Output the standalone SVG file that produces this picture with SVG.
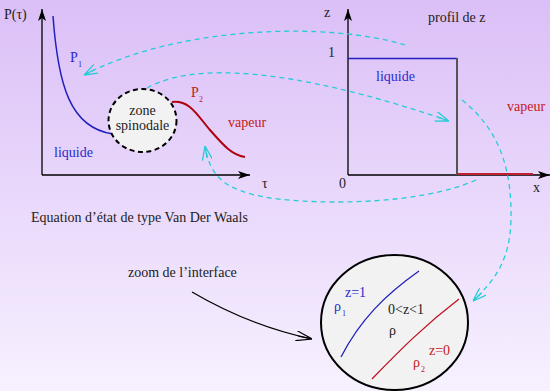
<svg xmlns="http://www.w3.org/2000/svg" width="550" height="391" viewBox="0 0 550 391">
<defs>
<linearGradient id="bg" x1="0" y1="0" x2="0" y2="1">
<stop offset="0" stop-color="#dbbff7"/>
<stop offset="1" stop-color="#f7f1ff"/>
</linearGradient>
<marker id="ax" viewBox="0 0 12 8" refX="12" refY="4" markerWidth="12" markerHeight="8" markerUnits="userSpaceOnUse" orient="auto">
<path d="M0,0 L12,4 L0,8 L3,4 Z" fill="#000"/>
</marker>
<marker id="cy" viewBox="0 0 14 10" refX="14" refY="5" markerWidth="14" markerHeight="10" markerUnits="userSpaceOnUse" orient="auto">
<path d="M0,0 L14,5 L0,10 M2,5 L14,5" fill="none" stroke="#26cdd6" stroke-width="1.3"/>
</marker>
<marker id="bk" viewBox="0 0 16 10" refX="16" refY="5" markerWidth="16" markerHeight="10" markerUnits="userSpaceOnUse" orient="auto">
<path d="M0,0 L16,5 L0,10 M2,5 L16,5" fill="none" stroke="#000" stroke-width="1.2"/>
</marker>
</defs>
<style>
text{font-family:"Liberation Serif","Times New Roman","DejaVu Serif",serif;font-size:14px;fill:#222}
.b{fill:#2a2acc}
.r{fill:#c41818}
.s{font-size:8px}
.cy{fill:none;stroke:#26cdd6;stroke-width:1.3;stroke-dasharray:5,4;marker-end:url(#cy)}
.axis{fill:none;stroke:#000;stroke-width:1.3}
</style>
<rect x="0" y="0" width="550" height="391" fill="url(#bg)"/>

<g id="left-plot">
<line class="axis" x1="42" y1="175" x2="42" y2="9" marker-end="url(#ax)"/>
<line class="axis" x1="42" y1="175" x2="250" y2="175" marker-end="url(#ax)"/>
<text x="4" y="19">P(τ)</text>
<text x="262" y="188">τ</text>
<path d="M53,16 C58,85 70,128 113,134" fill="none" stroke="#2020c0" stroke-width="1.5"/>
<path d="M172,102 C190,100 197,115 210,130 C224,146 232,155 245,157" fill="none" stroke="#b00010" stroke-width="2"/>
<text class="b" x="70" y="62">P</text><text class="b s" x="78" y="67">1</text>
<text class="r" x="191" y="97">P</text><text class="r s" x="199" y="102">2</text>
<text class="r" x="228" y="127">vapeur</text>
<text class="b" x="54" y="157">liquide</text>
</g>

<g id="spinodal">
<ellipse cx="142.5" cy="120.5" rx="34" ry="31.5" fill="#f2f2f2" stroke="#000" stroke-width="2" stroke-dasharray="5,3.5"/>
<text x="142.5" y="115" text-anchor="middle">zone</text>
<text x="142.5" y="130" text-anchor="middle">spinodale</text>
</g>

<g id="right-plot">
<line class="axis" x1="348" y1="175" x2="348" y2="9" marker-end="url(#ax)"/>
<line class="axis" x1="348" y1="175" x2="550" y2="175" marker-end="url(#ax)"/>
<text x="324" y="17">z</text>
<text x="328" y="57">1</text>
<text x="339" y="188">0</text>
<text x="533" y="192">x</text>
<text x="428" y="22">profil de z</text>
<line x1="348" y1="58.5" x2="457" y2="58.5" stroke="#2020c0" stroke-width="1.5"/>
<line x1="457" y1="58" x2="457" y2="175" stroke="#555" stroke-width="2"/>
<line x1="457" y1="174" x2="533" y2="174" stroke="#c02030" stroke-width="2"/>
<text class="b" x="376" y="81">liquide</text>
<text class="r" x="507" y="111">vapeur</text>
</g>

<g id="caption">
<text x="31" y="222">Equation d’état de type Van Der Waals</text>
<text x="128" y="277">zoom de l’interface</text>
</g>

<g id="interface-zoom">
<ellipse cx="394.5" cy="322.5" rx="73.5" ry="67.5" fill="#f2f2f2" stroke="#000" stroke-width="2"/>
<path d="M341,357 C360,320 385,295 419,271" fill="none" stroke="#2020c0" stroke-width="1.3"/>
<path d="M372,379 C400,350 425,325 459,299" fill="none" stroke="#c01020" stroke-width="1.3"/>
<text class="b" x="345" y="297">z=1</text>
<text class="b" x="334" y="311">ρ</text><text class="b s" x="342" y="316">1</text>
<text x="388" y="314">0&lt;z&lt;1</text>
<text x="389" y="335">ρ</text>
<text class="r" x="429" y="355">z=0</text>
<text class="r" x="413" y="367">ρ</text><text class="r s" x="421" y="372">2</text>
</g>

<g id="connectors">
<path class="cy" d="M405,45 C330,22 180,25 84,75"/>
<path class="cy" d="M147,88 C205,55 330,80 449,121"/>
<path class="cy" d="M462,100 C500,130 512,170 511,220 C510,260 495,280 473,301"/>
<path class="cy" d="M476,180 C420,205 320,205 270,198 C222,190 210,175 205,146"/>
<path d="M192,292 Q250,326 312,339" fill="none" stroke="#000" stroke-width="1.2" marker-end="url(#bk)"/>
</g>
</svg>
